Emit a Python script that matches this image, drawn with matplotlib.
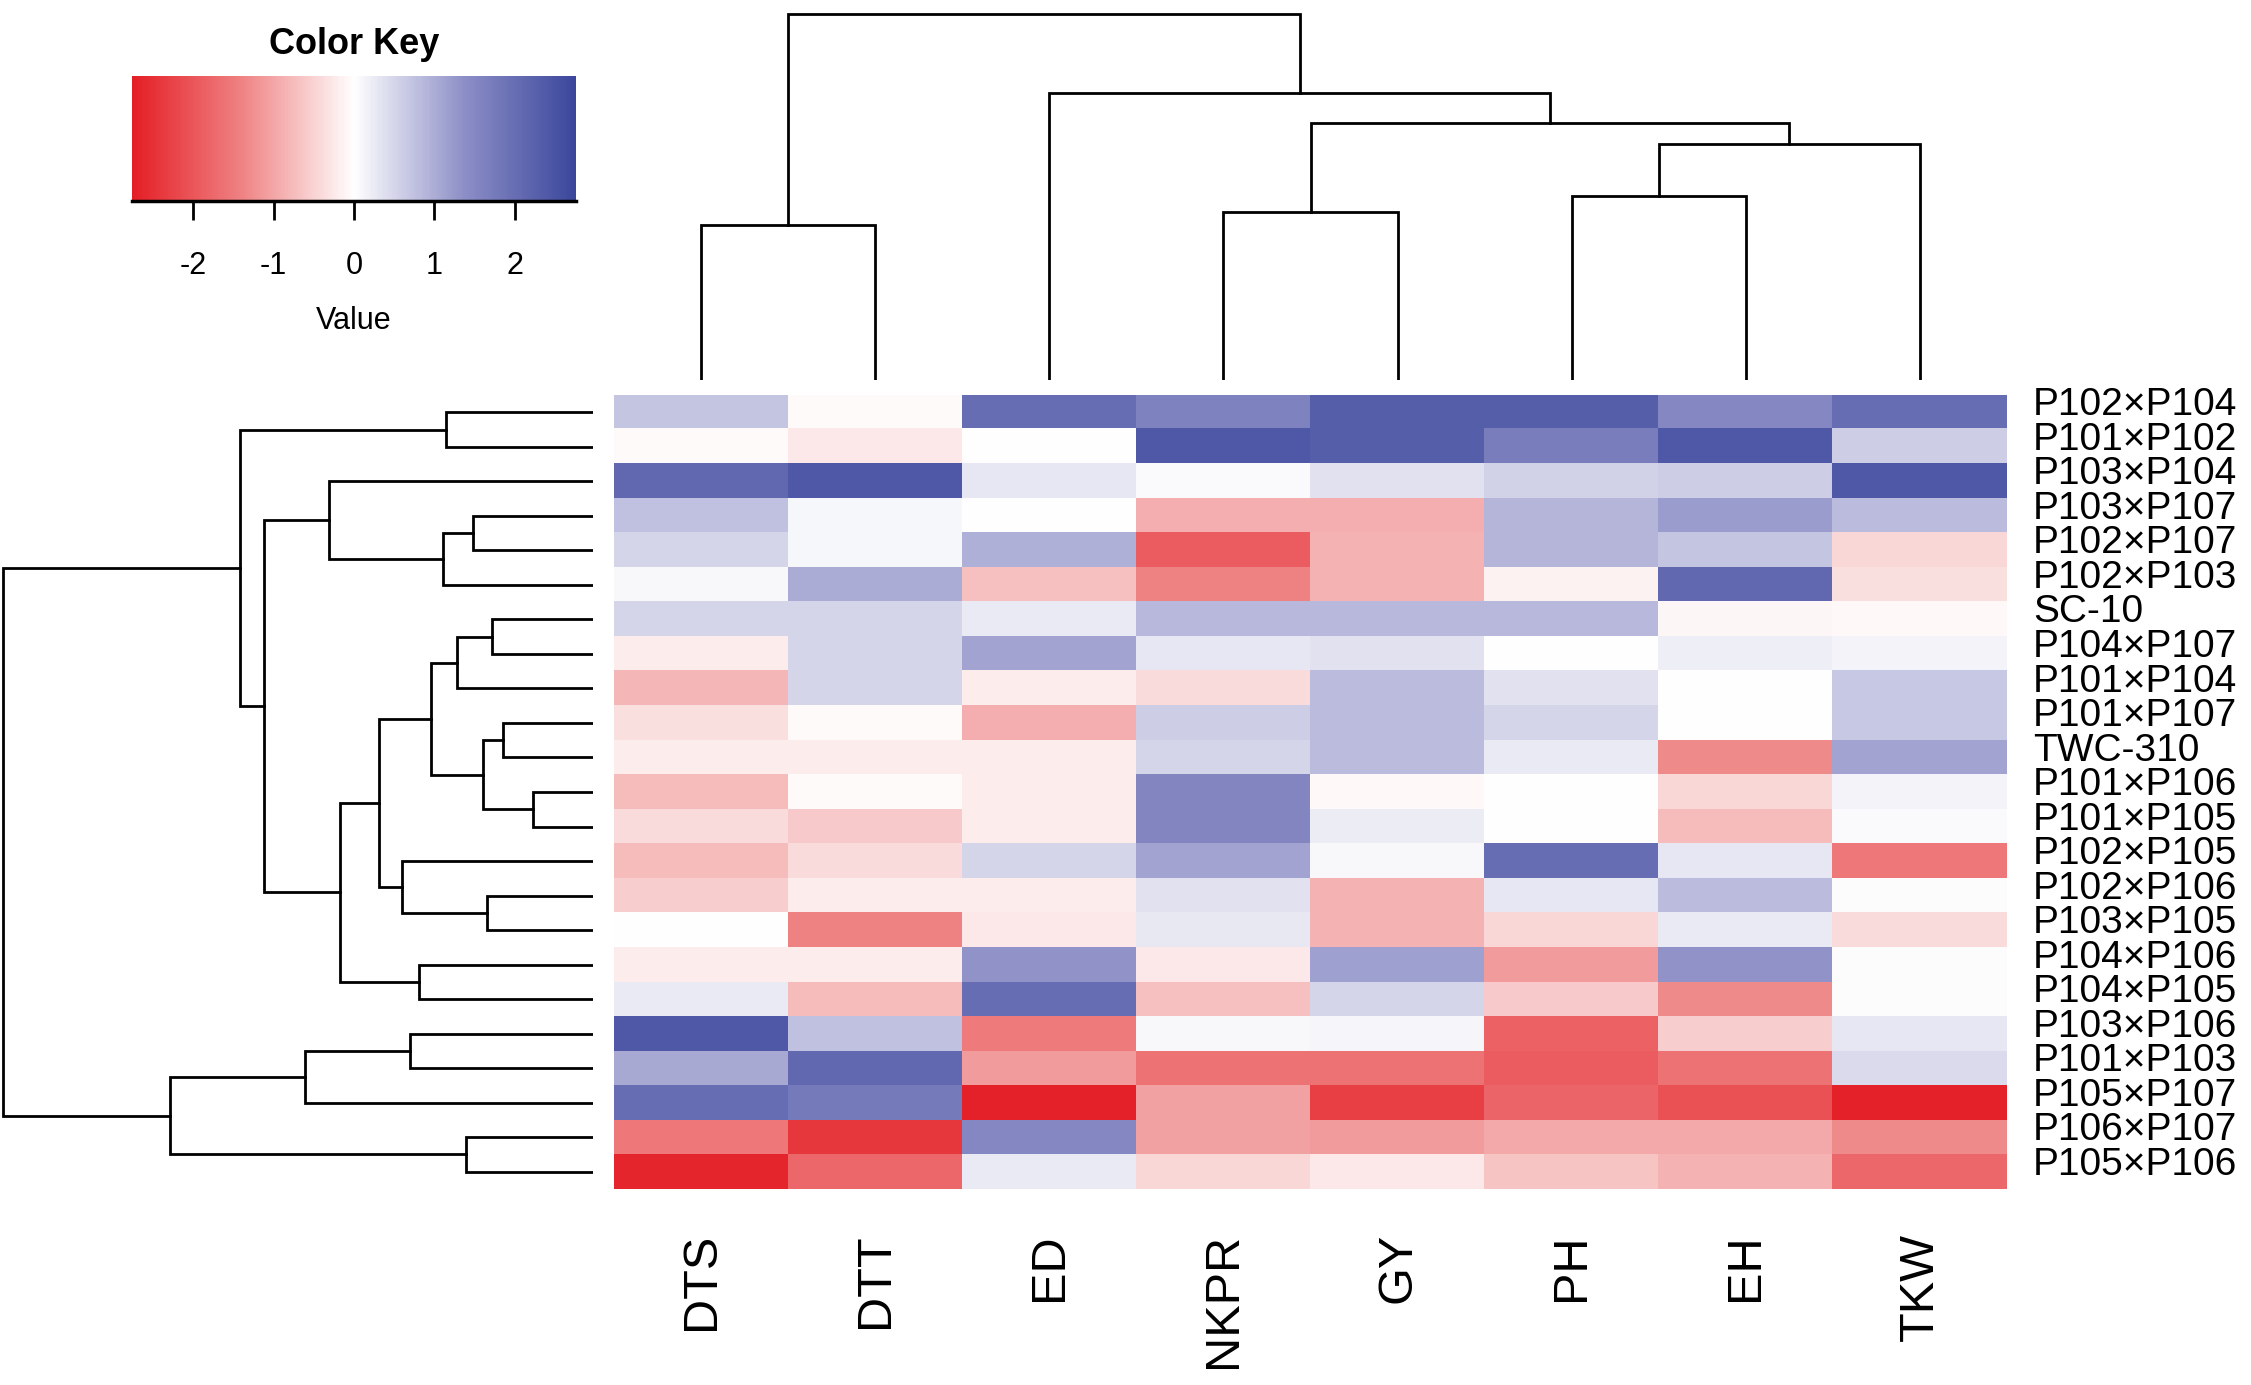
import numpy as np
import matplotlib
matplotlib.use('Agg')
import matplotlib.pyplot as plt
from matplotlib.colors import LinearSegmentedColormap, Normalize

plt.rcParams['font.family'] = ['Liberation Sans', 'DejaVu Sans']
plt.rcParams['axes.unicode_minus'] = False

# ------- data (standardised values, rows in dendrogram order) -------
genotypes = ['P102×P104', 'P101×P102', 'P103×P104', 'P103×P107', 'P102×P107',
             'P102×P103', 'SC-10', 'P104×P107', 'P101×P104', 'P101×P107',
             'TWC-310', 'P101×P106', 'P101×P105', 'P102×P105', 'P102×P106',
             'P103×P105', 'P104×P106', 'P104×P105', 'P103×P106', 'P101×P103',
             'P105×P107', 'P106×P107', 'P105×P106']
traits = ['DTS', 'DTT', 'ED', 'NKPR', 'GY', 'PH', 'EH', 'TKW']

dts = [0.7, -0.05, 2.1, 0.75, 0.5, 0.08, 0.5, -0.2, -0.8, -0.35, -0.2, -0.75,
       -0.4, -0.75, -0.55, -0.02, -0.2, 0.25, 2.4, 1.05, 2.0, -1.55, -2.65]
dtt = [-0.05, -0.25, 2.4, 0.1, 0.1, 1.0, 0.5, 0.5, 0.5, -0.05, -0.2, -0.05,
       -0.6, -0.4, -0.2, -1.4, -0.2, -0.75, 0.75, 2.1, 1.75, -2.4, -1.75]
ed = [2.0, 0.0, 0.3, 0.0, 0.95, -0.7, 0.25, 1.1, -0.2, -0.9, -0.2, -0.2,
      -0.2, 0.5, -0.2, -0.25, 1.3, 2.0, -1.5, -1.1, -2.7, 1.5, 0.25]
nkpr = [1.6, 2.4, 0.05, -0.9, -1.9, -1.4, 0.85, 0.3, -0.4, 0.6, 0.5, 1.55,
        1.55, 1.1, 0.35, 0.27, -0.25, -0.7, 0.08, -1.6, -1.05, -1.05, -0.45]
gy = [2.3, 2.3, 0.35, -0.9, -0.85, -0.85, 0.85, 0.35, 0.8, 0.8, 0.8, -0.08,
      0.22, 0.08, -0.85, -0.85, 1.15, 0.5, 0.12, -1.6, -2.3, -1.1, -0.25]
ph = [2.3, 1.7, 0.55, 0.9, 0.9, -0.15, 0.85, 0.0, 0.35, 0.5, 0.25, 0.0,
      0.0, 2.0, 0.3, -0.45, -1.1, -0.6, -1.85, -1.9, -1.8, -0.95, -0.65]
eh = [1.5, 2.4, 0.6, 1.2, 0.7, 2.1, -0.1, 0.2, 0.0, 0.0, -1.3, -0.45,
      -0.75, 0.3, 0.8, 0.25, 1.3, -1.3, -0.55, -1.6, -2.05, -0.95, -0.85]
tkw = [2.0, 0.6, 2.4, 0.8, -0.45, -0.35, -0.08, 0.15, 0.65, 0.65, 1.1, 0.15,
       0.05, -1.55, 0.03, -0.4, 0.03, 0.03, 0.3, 0.45, -2.7, -1.3, -1.75]

# merges: (left, right, height); leaves are 0..n-1, new clusters get n, n+1, ...
row_merges = [(0, 1, 147), (3, 4, 120), (24, 5, 150), (2, 25, 264),
              (6, 7, 101), (27, 8, 136), (9, 10, 90), (11, 12, 60),
              (29, 30, 110), (28, 31, 162), (14, 15, 106), (13, 33, 191),
              (32, 34, 214), (16, 17, 174), (35, 36, 253), (26, 37, 329),
              (23, 38, 353), (18, 19, 183), (40, 20, 288), (21, 22, 127),
              (41, 42, 423), (39, 43, 590)]
col_merges = [(0, 1, 155), (3, 4, 168), (5, 6, 184), (10, 7, 236),
              (9, 11, 257), (2, 12, 287), (8, 13, 366)]

values = np.column_stack([dts, dtt, ed, nkpr, gy, ph, eh, tkw])

# ------- layout (pixel boxes on a 2251x1385 canvas) -------
W, H = 2251, 1385


def box(left, top, right, bottom):
    return [left / W, 1 - bottom / H, (right - left) / W, (bottom - top) / H]


fig = plt.figure(figsize=(W / 100, H / 100), dpi=100)

cmap = LinearSegmentedColormap.from_list(
    'rwb', [(0.0, '#E41E25'), (0.25, '#EF8485'), (0.5, '#FFFFFF'),
            (0.75, '#8C8EC6'), (1.0, '#3B479C')])
norm = Normalize(vmin=-2.76, vmax=2.76)

# heatmap
ax = fig.add_axes(box(614, 395, 2007, 1189))
im = ax.imshow(values, cmap=cmap, norm=norm, aspect='auto', interpolation='nearest')
ax.set_axis_off()
nrow, ncol = values.shape
for j, t in enumerate(traits):
    ax.text(j, nrow - 0.5 + 1.28, t, rotation=90, ha='center', va='top',
            fontsize=35, clip_on=False)
for i, g in enumerate(genotypes):
    ax.text(ncol - 0.5 + 0.15, i + 0.09, g, ha='left', va='baseline',
            fontsize=28, clip_on=False)


def draw_dendro(axis, merges, n, horizontal):
    pos = {k: float(k) for k in range(n)}
    hgt = {k: 0.0 for k in range(n)}
    for k, (a, b, h) in enumerate(merges):
        xs = [hgt[a], h, h, hgt[b]]
        ys = [pos[a], pos[a], pos[b], pos[b]]
        if horizontal:
            axis.plot(xs, ys, color='black', lw=2, solid_joinstyle='miter')
        else:
            axis.plot(ys, xs, color='black', lw=2, solid_joinstyle='miter')
        pos[n + k] = (pos[a] + pos[b]) / 2
        hgt[n + k] = h


# row dendrogram
rax = fig.add_axes(box(0, 395, 593, 1189))
draw_dendro(rax, row_merges, nrow, horizontal=True)
rax.set_xlim(593, 0)
rax.set_ylim(nrow - 0.5, -0.5)
rax.set_axis_off()

# column dendrogram
cax = fig.add_axes(box(614, 0, 2007, 380))
draw_dendro(cax, col_merges, ncol, horizontal=False)
cax.set_xlim(-0.5, ncol - 0.5)
cax.set_ylim(0, 380)
cax.set_axis_off()

# colour key
kax = fig.add_axes(box(132, 76, 576, 201))
cb = fig.colorbar(im, cax=kax, orientation='horizontal')
cb.outline.set_visible(False)
kax.plot([0, 1], [0, 0], color='black', lw=2.5, transform=kax.transAxes, clip_on=False)
cb.set_ticks([-2, -1, 0, 1, 2])
kax.xaxis.set_ticks_position('bottom')
kax.tick_params(axis='x', length=14, width=2, pad=22, labelsize=22)
kax.set_xlabel('Value', fontsize=22, labelpad=18)
kax.set_title('Color Key', fontsize=26, fontweight='bold', pad=16)

fig.savefig('out.png', dpi=100)
